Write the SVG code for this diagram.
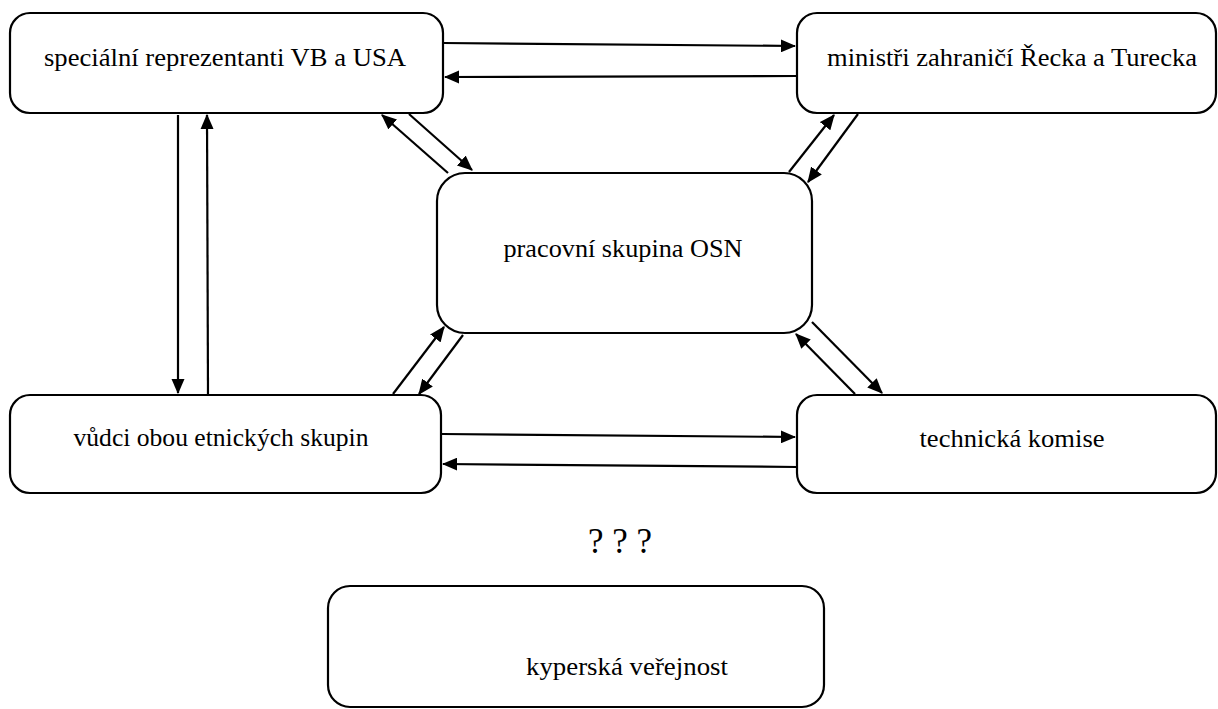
<svg xmlns="http://www.w3.org/2000/svg" width="1218" height="709" viewBox="0 0 1218 709">
<style>
.box{fill:#fff;stroke:#000;stroke-width:2.2}
.t{font-family:"Liberation Serif","Times New Roman","DejaVu Serif",serif;font-size:26px;fill:#000;text-anchor:middle}
.c{stroke:#000;stroke-width:2.2;fill:none;marker-end:url(#ah)}
</style>
<defs>
<marker id="ah" markerWidth="7" markerHeight="6" refX="6.5" refY="3" orient="auto" markerUnits="strokeWidth">
<path d="M0,0 L7,3 L0,6 Z" fill="#000"/>
</marker>
</defs>
<rect width="1218" height="709" fill="#fff"/>
<g id="n1"><rect class="box" x="10" y="13" width="433" height="100" rx="20"/><text class="t" x="225" y="66" textLength="362" lengthAdjust="spacingAndGlyphs">speciální reprezentanti VB a USA</text></g>
<g id="n2"><rect class="box" x="797" y="13" width="419" height="100" rx="20"/><text class="t" x="1012" y="66" textLength="370" lengthAdjust="spacingAndGlyphs">ministři zahraničí Řecka a Turecka</text></g>
<g id="n3"><rect class="box" x="437" y="173" width="375" height="160" rx="28"/><text class="t" x="623" y="257" textLength="239" lengthAdjust="spacingAndGlyphs">pracovní skupina OSN</text></g>
<g id="n4"><rect class="box" x="10" y="395" width="431" height="98" rx="20"/><text class="t" x="221" y="446" textLength="295" lengthAdjust="spacingAndGlyphs">vůdci obou etnických skupin</text></g>
<g id="n5"><rect class="box" x="797" y="395" width="419" height="98" rx="20"/><text class="t" x="1012" y="447" textLength="185" lengthAdjust="spacingAndGlyphs">technická komise</text></g>
<g id="n6"><text class="t" x="620" y="553" style="font-size:35px" textLength="64" lengthAdjust="spacingAndGlyphs">? ? ?</text></g>
<g id="n7"><rect class="box" x="328" y="586" width="496" height="121" rx="22"/><text class="t" x="627" y="675" textLength="202" lengthAdjust="spacingAndGlyphs">kyperská veřejnost</text></g>
<g id="connectors">
<path class="c" d="M443,43 L795,46"/>
<path class="c" d="M797,76 L445,77"/>
<path class="c" d="M178,115 L178,393"/>
<path class="c" d="M208,395 L207,115"/>
<path class="c" d="M448,173 L382,115"/>
<path class="c" d="M409,114 L472,170"/>
<path class="c" d="M789,172 L834,115"/>
<path class="c" d="M858,114 L808,182"/>
<path class="c" d="M393,394 L444,327"/>
<path class="c" d="M463,335 L419,394"/>
<path class="c" d="M812,322 L882,393"/>
<path class="c" d="M855,394 L796,334"/>
<path class="c" d="M442,434 L795,437"/>
<path class="c" d="M797,467 L443,464"/>
</g>
</svg>
